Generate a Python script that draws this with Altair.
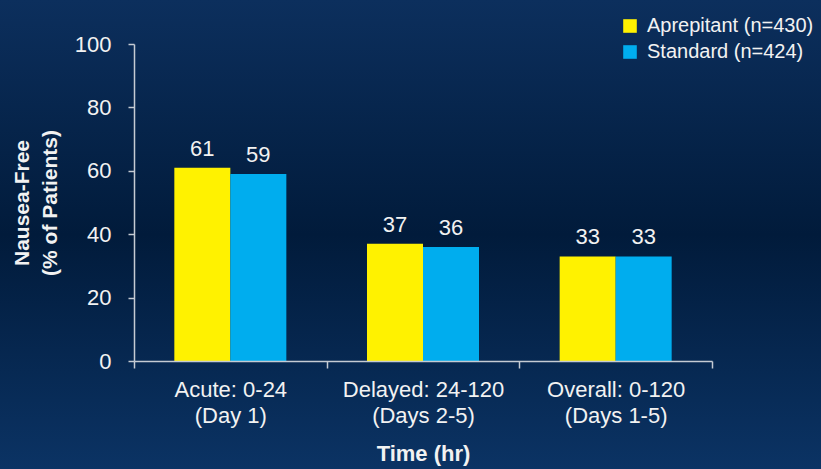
import altair as alt
import pandas as pd

categories = ["Acute: 0-24|(Day 1)", "Delayed: 24-120|(Days 2-5)", "Overall: 0-120|(Days 1-5)"]
series = ["Aprepitant (n=430)", "Standard (n=424)"]
aprepitant = [61, 37, 33]
standard = [59, 36, 33]
colors = ["#FFF200", "#00ADEE"]
y_ticks = [0, 20, 40, 60, 80, 100]

rows = []
for c, a, s in zip(categories, aprepitant, standard):
    rows.append({"cat": c, "group": series[0], "value": a})
    rows.append({"cat": c, "group": series[1], "value": s})
df = pd.DataFrame(rows)

FONT = "Liberation Sans"
TXT = "#F2F2F2"
AX = "#C5CBD3"

W, H = 578, 317
PL, PT, PR, PB = 134, 44, 109, 108

bg = alt.Chart(pd.DataFrame({"k": [0]})).mark_rect(
    clip=False,
    color=alt.Gradient(
        gradient="linear",
        stops=[
            alt.GradientStop(color="#0C2F5D", offset=0),
            alt.GradientStop(color="#011B3B", offset=0.5),
            alt.GradientStop(color="#0B3364", offset=1),
        ],
        x1=0, x2=0, y1=0, y2=1,
    ),
).encode(
    x=alt.value(-PL), x2=alt.value(W + PR),
    y=alt.value(-PT), y2=alt.value(H + PB),
)

x_enc = alt.X(
    "cat:N", sort=categories,
    scale=alt.Scale(paddingInner=0, paddingOuter=0),
    axis=alt.Axis(
        title="Time (hr)", labelAngle=0, tickBand="extent",
        labelExpr="split(datum.label, '|')",
        labelFont=FONT, labelFontSize=22, labelColor=TXT, labelLineHeight=26,
        labelPadding=11, tickSize=7, tickColor=AX, domainColor=AX,
        domainWidth=1.5, tickWidth=1.5,
        titleFont=FONT, titleFontSize=22, titleFontWeight="bold", titleColor=TXT,
        titlePadding=17, zindex=1,
    ),
)
xoff = alt.XOffset("group:N", sort=series, scale=alt.Scale(paddingOuter=0.72, paddingInner=0))
y_enc = alt.Y(
    "value:Q",
    scale=alt.Scale(domain=[0, 100], nice=False),
    axis=alt.Axis(
        values=y_ticks, grid=False, title=["Nausea-Free", "(% of Patients)"],
        labelFont=FONT, labelFontSize=22, labelColor=TXT, labelPadding=17,
        tickSize=6, tickColor=AX, domainColor=AX, domainWidth=1.5, tickWidth=1.5,
        titleFont=FONT, titleFontSize=21, titleFontWeight="bold", titleColor=TXT,
        titlePadding=14, titleLineHeight=28, zindex=1,
    ),
)

bars = alt.Chart(df).mark_bar().encode(
    x=x_enc, xOffset=xoff, y=y_enc,
    color=alt.Color(
        "group:N", sort=series,
        scale=alt.Scale(domain=series, range=colors),
        legend=alt.Legend(
            title=None, orient="none", legendX=486, legendY=-28,
            symbolType="square", symbolSize=185, symbolStrokeWidth=0,
            labelFont=FONT, labelFontSize=20, labelColor=TXT, labelLimit=400,
            labelOffset=7, rowPadding=6,
        ),
    ),
)

labels = alt.Chart(df).mark_text(
    baseline="alphabetic", dy=-12, fontSize=22, font=FONT, color=TXT
).encode(x=alt.X("cat:N", sort=categories), xOffset=xoff, y="value:Q", text="value:Q")

chart = alt.layer(bg, bars, labels).properties(
    width=W, height=H,
    padding={"left": PL, "top": PT, "right": PR, "bottom": PB},
    autosize=alt.AutoSizeParams(type="none"),
    background="#011B3B",
).configure_view(stroke=None)

chart.save("out.html", embed_options={"renderer": "svg", "actions": False})
